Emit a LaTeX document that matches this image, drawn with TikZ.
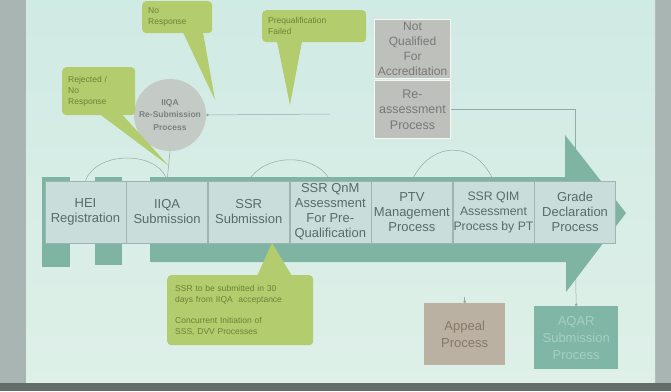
\documentclass[tikz,border=0pt]{standalone}
\usepackage{fontspec}
\setmainfont{Liberation Sans}
\usetikzlibrary{positioning,calc,backgrounds,arrows.meta}

\definecolor{slidetop}{HTML}{D0EAE4}
\definecolor{slidebot}{HTML}{DEF0E8}
\definecolor{screencol}{HTML}{A9B5B3}
\definecolor{arrowcol}{HTML}{7FB4A3}
\definecolor{stagefill}{HTML}{C9DEDA}
\definecolor{stageline}{HTML}{9DB5B0}
\definecolor{stagetext}{HTML}{566C6A}
\definecolor{notefill}{HTML}{B2CC6E}
\definecolor{notetext}{HTML}{6E8236}
\definecolor{circfill}{HTML}{C4CAC6}
\definecolor{circtext}{HTML}{7C827C}
\definecolor{grayfill}{HTML}{BEC0BC}
\definecolor{graytext}{HTML}{767A77}
\definecolor{appealfill}{HTML}{BAB1A3}
\definecolor{appealtext}{HTML}{877766}
\definecolor{aqarfill}{HTML}{80B6A5}
\definecolor{aqartext}{HTML}{A6CFC3}
\definecolor{linkcol}{HTML}{93ABA6}

\begin{document}
\begin{tikzpicture}[x=1pt,y=-1pt,
  stage/.style={draw=stageline, line width=0.6pt, fill=stagefill, text=stagetext,
    minimum width=81pt, minimum height=62pt, inner sep=0pt,
    align=center, font=\fontsize{13}{15}\selectfont},
  note/.style={fill=notefill, text=notetext, rounded corners=4pt, anchor=north west,
    inner xsep=6pt, inner ysep=4pt, align=left, font=\fontsize{8.5}{11}\selectfont},
  graybox/.style={draw=white!85!grayfill, line width=1pt, fill=grayfill, text=graytext,
    anchor=north west, minimum width=76pt, inner sep=0pt, align=center,
    font=\fontsize{12}{15}\selectfont},
  endbox/.style={anchor=north west, inner sep=0pt, align=center,
    font=\fontsize{13}{17}\selectfont},
  link/.style={draw=linkcol, line width=0.5pt},
  dot/.style={-{Circle[length=2.5pt]}}]

\useasboundingbox (0,0) rectangle (671,391);

% process stages
\node[stage] (hei) at (85.5,212) {HEI\\Registration};
\node[stage,right=0pt of hei] (iiqa) {IIQA\\Submission};
\node[stage,right=0pt of iiqa] (ssr) {SSR\\Submission};
\node[stage,right=0pt of ssr] (qnm) {SSR QnM\\Assessment\\For Pre-\\Qualification};
\node[stage,right=0pt of qnm] (ptv) {PTV\\Management\\Process};
\node[stage,right=0pt of ptv,font=\fontsize{12.3}{15}\selectfont] (qim) {SSR QIM\\Assessment\\Process by PT};
\node[stage,right=0pt of qim] (grade) {Grade\\Declaration\\Process};

% side processes
\node[circle, fill=circfill, text=circtext, minimum size=72pt, inner sep=0pt, align=center,
  font=\bfseries\fontsize{8.5}{12.5}\selectfont] (resub) at (170,115) {IIQA\\Re-Submission\\Process};
\coordinate (resubend) at (330,114);

\node[graybox, minimum height=59pt] (notq) at (374,19) {Not\\Qualified\\For\\Accreditation};
\node[graybox, minimum height=58pt, font=\fontsize{12.5}{15.5}\selectfont] (reass) at (374,80) {Re-\\assessment\\Process};

\node[endbox, fill=appealfill, text=appealtext, minimum width=81pt, minimum height=62pt] (appeal) at (424,303) {Appeal\\Process};
\node[endbox, fill=aqarfill, text=aqartext, minimum width=84pt, minimum height=63pt] (aqar) at (534,306) {AQAR\\Submission\\Process};

\begin{scope}[on background layer]
  \fill[screencol] (0,0) rectangle (671,391);
  \shade[top color=slidetop, bottom color=slidebot] (26,-5) rectangle (655,383);
  \fill[screencol!60!black] (0,383) rectangle (671,391);

  \draw[link,dot] (reass.east) -| (grade.north);
  \draw[link,dot] (grade.south) -- (aqar.north);
  \draw[link,dot] ([yshift=6pt]appeal.north) -- (appeal.north);

  % big arrow
  \fill[arrowcol] (150,177) -- (565,177) -- (565,135) -- (626,213) -- (566,292)
    -- (566,262) -- (150,262) -- cycle;
  \fill[arrowcol] (42,177) rectangle (70,267);
  \fill[arrowcol] (95,177) rectangle (122,265);
\end{scope}

\draw[link,dot] (resub.south) -- (iiqa.north);
\draw[link,{Circle[length=2.5pt]}-] (resub.east) -- (resubend);
\draw[link,dot] (hei.north) to[out=70,in=110] (iiqa.north);
\draw[link,dot] (ssr.north) to[out=60,in=120] (qnm.north);
\draw[link,dot] (ptv.north) to[out=65,in=115,looseness=1.4] (qim.north);

% callouts
\node[note, text width=58pt, minimum height=32pt] (noresp) at (142,1) {No\\Response};
\coordinate (norespTip) at (215,100);
\fill[notefill] ($(noresp.south west)+(41,-1)$) -- (norespTip) -- ($(noresp.south west)+(61,-1)$) -- cycle;

\node[note, text width=92pt, minimum height=32pt] (prequal) at (262,10) {Prequalification\\Failed};
\coordinate (prequalTip) at (290,105);
\fill[notefill] ($(prequal.south west)+(15,-1)$) -- (prequalTip) -- ($(prequal.south west)+(40,-1)$) -- cycle;

\node[note, text width=61pt, minimum height=48pt] (rejected) at (62,67) {Rejected /\\No\\Response};
\coordinate (rejectedTip) at (169,166);
\fill[notefill] ($(rejected.south west)+(38,-1)$) -- (rejectedTip) -- ($(rejected.south west)+(60,-1)$) -- cycle;

\node[note, text width=130pt, minimum height=70pt, inner xsep=8pt] (ssrnote) at (167,275)
  {SSR to be submitted in 30\\days from IIQA\ \ acceptance\\[10pt]Concurrent Initiation of\\SSS, DVV Processes};
\coordinate (ssrnoteTip) at (272,243);
\fill[notefill] ($(ssrnote.north west)+(90,1)$) -- (ssrnoteTip) -- ($(ssrnote.north west)+(125,1)$) -- cycle;

\end{tikzpicture}
\end{document}
